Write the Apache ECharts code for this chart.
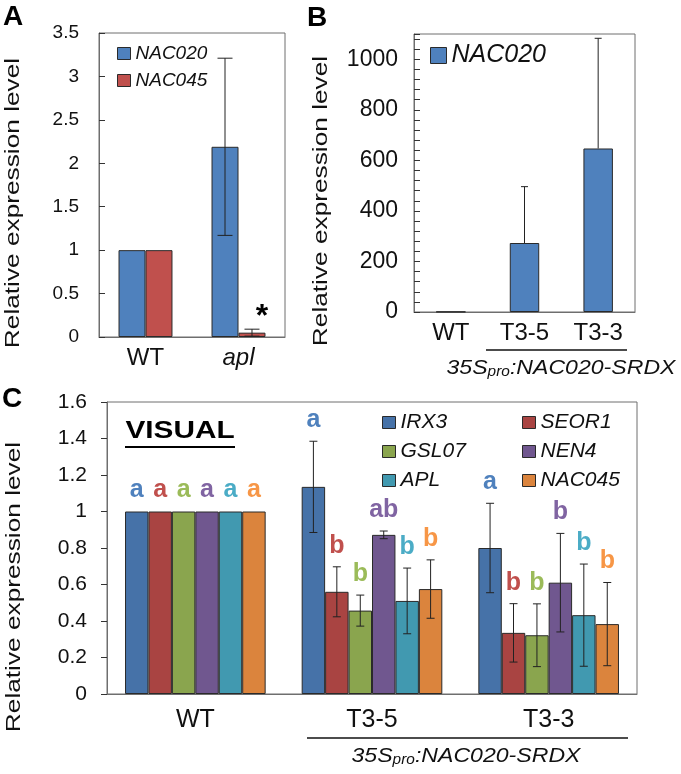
<!DOCTYPE html>
<html>
<head>
<meta charset="utf-8">
<script src="https://cdn.jsdelivr.net/npm/echarts@6/dist/echarts.min.js"></script>
<style>html,body{margin:0;padding:0;background:#fff;}#c{width:681px;height:774px;}</style>
</head>
<body>
<div id="c"></div>
<script>
// ---------- DATA ----------
// Panel A
const catsA = ['WT', 'apl'];
const nac020A = [1, 2.19];
const nac020AErr = [0, 1.02];
const nac045A = [1, 0.05];
const nac045AErr = [0, 0.04];
const sigA = ['', '*'];
const ticksA = { min: 0, max: 3.5, interval: 0.5 };

// Panel B
const catsB = ['WT', 'T3-5', 'T3-3'];
const nac020B = [1, 273, 647];
const nac020BErr = [0, 223, 436];
const ticksB = { min: 0, max: 1100, interval: 40, labelEvery: 200, labelMax: 1000 };

// Panel C
const catsC = ['WT', 'T3-5', 'T3-3'];
const genesC = ['IRX3', 'SEOR1', 'GSL07', 'NEN4', 'APL', 'NAC045'];
const irx3 = [1, 1.135, 0.80];
const irx3Err = [0, 0.25, 0.245];
const seor1 = [1, 0.56, 0.335];
const seor1Err = [0, 0.137, 0.16];
const gsl07 = [1, 0.457, 0.322];
const gsl07Err = [0, 0.085, 0.172];
const nen4 = [1, 0.872, 0.61];
const nen4Err = [0, 0.021, 0.27];
const apl = [1, 0.51, 0.432];
const aplErr = [0, 0.18, 0.28];
const nac045 = [1, 0.575, 0.383];
const nac045Err = [0, 0.16, 0.228];
const irx3L = ['a', 'a', 'a'];
const seor1L = ['a', 'b', 'b'];
const gsl07L = ['a', 'b', 'b'];
const nen4L = ['a', 'ab', 'b'];
const aplL = ['a', 'b', 'b'];
const nac045L = ['a', 'b', 'b'];
const ticksC = { min: 0, max: 1.6, interval: 0.2 };

// ---------- STYLE ----------
const FONT = 'Liberation Sans, Arial, sans-serif';
const frame = '#6e6e6e';
const tickCol = '#333333';
const barBorder = '#2a2a2a';
const colA = { nac020: '#4f81bd', nac045: '#c0504d' };
const colC = ['#4672a8', '#a94442', '#8aa54e', '#70578f', '#4199b0', '#db843d'];
const letC = ['#4f81bd', '#c0504d', '#9bbb59', '#8064a2', '#4bacc6', '#f79646'];

const chart = echarts.init(document.getElementById('c'), null, { renderer: 'canvas' });

function errSeries(xi, vals, errs, idx, n, gap, capW, opt) {
  opt = opt || {};
  return {
    type: 'custom',
    xAxisIndex: xi, yAxisIndex: xi,
    z: 10,
    silent: true,
    data: vals.map((v, i) => [i, v, errs[i]]),
    renderItem: function (params, api) {
      const c = api.value(0), v = api.value(1), e = api.value(2);
      const band = api.size([1, 0])[0];
      const bw = band * (1 - gap) / n;
      const x = api.coord([c, v])[0] + (idx - (n - 1) / 2) * bw;
      const yT = api.coord([c, v + e])[1];
      const yB = api.coord([c, opt.upOnly ? v : v - e])[1];
      const st = { stroke: '#222', lineWidth: 1 };
      const ch = [];
      if (e > 0) {
        ch.push({ type: 'line', shape: { x1: x, y1: yT, x2: x, y2: yB }, style: st });
        ch.push({ type: 'line', shape: { x1: x - capW / 2, y1: yT, x2: x + capW / 2, y2: yT }, style: st });
        if (!opt.upOnly) ch.push({ type: 'line', shape: { x1: x - capW / 2, y1: yB, x2: x + capW / 2, y2: yB }, style: st });
      }
      if (opt.labels && opt.labels[params.dataIndex]) {
        ch.push({
          type: 'text',
          x: x + (opt.labelDx || 0), y: yT - (opt.labelDy || 20),
          style: {
            text: opt.labels[params.dataIndex], fill: opt.labelColor || '#000',
            font: opt.labelFont, align: 'center', verticalAlign: 'middle'
          }
        });
      }
      return { type: 'group', children: ch };
    }
  };
}

const gapA = 0.42, gapB = 0.6, gapC = 0.204;

function barS(name, xi, data, color, gap) {
  return {
    name: name, type: 'bar', xAxisIndex: xi, yAxisIndex: xi,
    data: data, barGap: '0%', barCategoryGap: (gap * 100) + '%',
    itemStyle: { color: color, borderColor: barBorder, borderWidth: 1 },
    emphasis: { disabled: true }, animation: false
  };
}

const seriesC = [irx3, seor1, gsl07, nen4, apl, nac045];
const errsC = [irx3Err, seor1Err, gsl07Err, nen4Err, aplErr, nac045Err];
const letsC = [irx3L, seor1L, gsl07L, nen4L, aplL, nac045L];

const series = [
  barS('NAC020', 0, nac020A, colA.nac020, gapA),
  barS('NAC045', 0, nac045A, colA.nac045, gapA),
  errSeries(0, nac020A, nac020AErr, 0, 2, gapA, 15),
  errSeries(0, nac045A, nac045AErr, 1, 2, gapA, 15, { labels: sigA, labelFont: 'bold 32px ' + FONT, labelDx: 10, labelDy: 12 }),
  barS('NAC020', 1, nac020B, colA.nac020, gapB),
  errSeries(1, nac020B, nac020BErr, 0, 1, gapB, 7, { upOnly: true })
];
genesC.forEach((g, k) => series.push(barS(g, 2, seriesC[k], colC[k], gapC)));
genesC.forEach((g, k) => series.push(errSeries(2, seriesC[k], errsC[k], k, 6, gapC, 8,
  { labels: letsC[k], labelColor: letC[k], labelFont: 'bold 25px ' + FONT, labelDy: 21 })));

function yAx(gi, t, fs, margin, inside, fmt) {
  return {
    type: 'value', gridIndex: gi, min: t.min, max: t.max, interval: t.interval,
    axisLine: { show: true, lineStyle: { color: frame, width: 1 } },
    axisTick: { show: true, inside: inside, length: 6, lineStyle: { color: tickCol, width: 1 } },
    splitLine: { show: false },
    axisLabel: { color: '#111', fontFamily: FONT, fontSize: fs, margin: margin, showMaxLabel: true, formatter: fmt || ((v) => String(+v.toFixed(2))) }
  };
}
function xAx(gi, cats, fs, margin, rich) {
  return {
    type: 'category', gridIndex: gi, data: cats,
    axisLine: { show: true, lineStyle: { color: frame, width: 1 } },
    axisTick: { show: false },
    axisLabel: Object.assign({ color: '#111', fontFamily: FONT, fontSize: fs, margin: margin, interval: 0 }, rich || {})
  };
}

const grids = [
  { left: 99, top: 33, width: 186, height: 304 },
  { left: 414, top: 34, width: 221, height: 278 },
  { left: 107, top: 402, width: 530, height: 292 }
].map(g => Object.assign(g, { show: true, borderColor: frame, borderWidth: 1, backgroundColor: 'transparent', containLabel: false }));

const legendText = (fs) => ({ fontFamily: FONT, fontSize: fs, fontStyle: 'italic', color: '#111' });
const legBase = { orient: 'vertical', icon: 'rect', selectedMode: false, padding: 0, itemStyle: { borderColor: barBorder, borderWidth: 1 } };

function yName(x, y, fs, sx) {
  return {
    type: 'text', x: x, y: y, rotation: Math.PI / 2, scaleX: sx, scaleY: 1,
    style: { text: 'Relative expression level', font: fs + 'px ' + FONT, fill: '#111', align: 'center', verticalAlign: 'middle' }
  };
}
function panelLetter(t, x, y) {
  return { type: 'text', x: x, y: y, style: { text: t, font: 'bold 28px ' + FONT, fill: '#000', align: 'left', verticalAlign: 'top' } };
}
function construct(x, y) {
  return {
    type: 'text', x: x, y: y, scaleX: 1.1,
    style: {
      text: '{a|35S}{s|pro}{a|:NAC020-SRDX}', align: 'center', verticalAlign: 'middle',
      rich: {
        a: { fontFamily: FONT, fontSize: 21, fontStyle: 'italic', fill: '#111', lineHeight: 24, verticalAlign: 'bottom' },
        s: { fontFamily: FONT, fontSize: 14, fontStyle: 'italic', fill: '#111', lineHeight: 19, verticalAlign: 'bottom' }
      }
    }
  };
}

const option = {
  animation: false,
  backgroundColor: '#fff',
  textStyle: { fontFamily: FONT },
  grid: grids,
  xAxis: [
    xAx(0, catsA, 24, 9, { formatter: (v) => v === 'apl' ? '{i|apl}' : v, rich: { i: { fontStyle: 'italic', fontSize: 24, fontFamily: FONT, color: '#111' } } }),
    xAx(1, catsB, 24, 9),
    xAx(2, catsC, 25, 14)
  ],
  yAxis: [
    yAx(0, ticksA, 19, 20, true),
    yAx(1, ticksB, 23, 16, true, (v) => (v % ticksB.labelEvery === 0 && v <= ticksB.labelMax) ? String(v) : ''),
    yAx(2, ticksC, 21, 20, false)
  ],
  legend: [
    Object.assign({}, legBase, { left: 117, top: 44, itemWidth: 13, itemHeight: 12, itemGap: 8, textStyle: legendText(19), data: [{ name: 'NAC020', itemStyle: { color: colA.nac020 } }, { name: 'NAC045', itemStyle: { color: colA.nac045 } }] }),
    Object.assign({}, legBase, { left: 430, top: 43, itemWidth: 16, itemHeight: 16, textStyle: legendText(25), data: [{ name: 'NAC020', itemStyle: { color: colA.nac020 } }] }),
    Object.assign({}, legBase, { left: 382, top: 412, itemWidth: 13, itemHeight: 12, itemGap: 8, textStyle: legendText(21), data: [0, 2, 4].map(k => ({ name: genesC[k], itemStyle: { color: colC[k] } })) }),
    Object.assign({}, legBase, { left: 522, top: 412, itemWidth: 13, itemHeight: 12, itemGap: 8, textStyle: legendText(21), data: [1, 3, 5].map(k => ({ name: genesC[k], itemStyle: { color: colC[k] } })) })
  ],
  graphic: [
    panelLetter('A', 3, 3),
    panelLetter('B', 307, 4),
    panelLetter('C', 2, 385),
    yName(13, 203, 21, 1.25),
    yName(321, 201, 21, 1.25),
    yName(14, 587, 21, 1.25),
    { type: 'line', shape: { x1: 486, y1: 350, x2: 627, y2: 350 }, style: { stroke: '#111', lineWidth: 1.5 } },
    construct(561, 367),
    { type: 'line', shape: { x1: 307, y1: 738, x2: 628, y2: 738 }, style: { stroke: '#111', lineWidth: 1.5 } },
    construct(466, 755),
    { type: 'text', x: 180, y: 431, scaleX: 1.24, style: { text: 'VISUAL', font: 'bold 24px ' + FONT, fill: '#000', align: 'center', verticalAlign: 'middle' } },
    { type: 'line', shape: { x1: 125, y1: 447, x2: 235, y2: 447 }, style: { stroke: '#000', lineWidth: 2 } }
  ],
  series: series
};
chart.setOption(option);
</script>
</body>
</html>
